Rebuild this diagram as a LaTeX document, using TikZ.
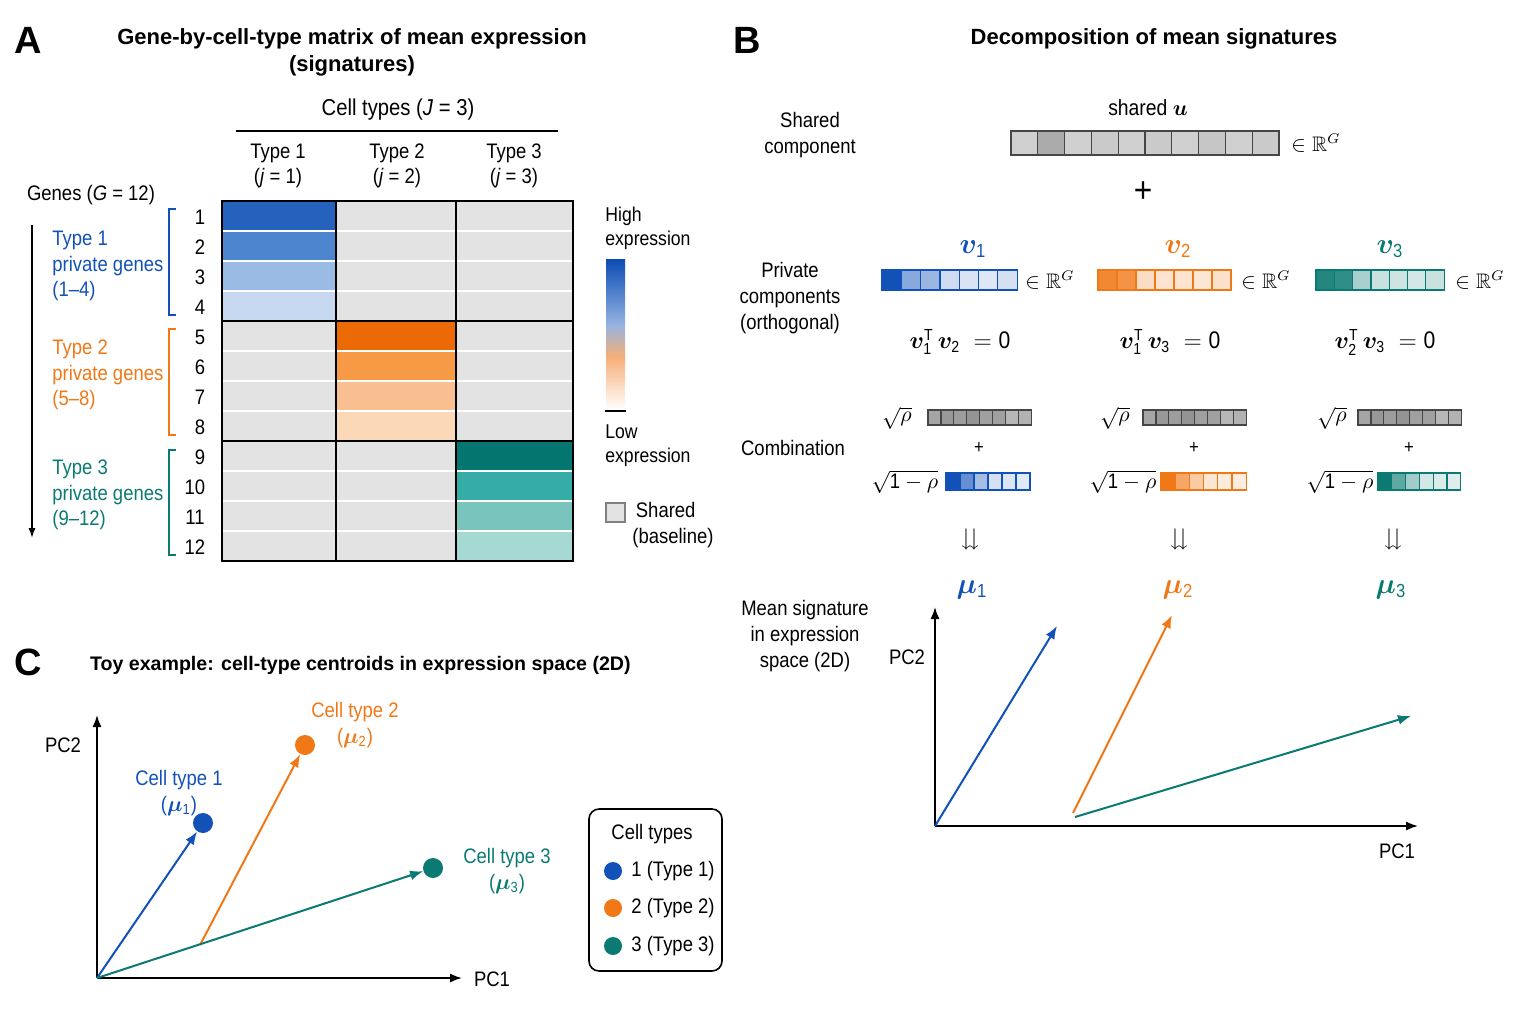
\documentclass[tikz,border=0pt]{standalone}
\usepackage{amsmath,amssymb,bm}
\usepackage{fontspec}
\setmainfont{Liberation Sans}[FakeStretch=0.88]
\newfontfamily\titlefont{Liberation Sans}
\usepackage{tikz}
\usetikzlibrary{calc,positioning,arrows.meta}

\definecolor{TypeBlue}{RGB}{18,82,184}
\definecolor{TypeOrange}{RGB}{240,120,22}
\definecolor{TypeTeal}{RGB}{10,122,114}
\definecolor{BaseGray}{RGB}{227,227,227}
\definecolor{BarGray}{RGB}{208,208,208}
\definecolor{CombGray}{RGB}{165,165,165}
\definecolor{BarEdge}{RGB}{70,70,70}
% heatmap shades
\definecolor{hb1}{RGB}{36,98,190}
\definecolor{hb2}{RGB}{77,133,207}
\definecolor{hb3}{RGB}{154,187,227}
\definecolor{hb4}{RGB}{197,216,239}
\definecolor{ho1}{RGB}{236,106,6}
\definecolor{ho2}{RGB}{247,154,69}
\definecolor{ho3}{RGB}{248,192,144}
\definecolor{ho4}{RGB}{250,216,184}
\definecolor{ht1}{RGB}{5,117,111}
\definecolor{ht2}{RGB}{54,172,166}
\definecolor{ht3}{RGB}{122,196,190}
\definecolor{ht4}{RGB}{166,216,212}

\tikzset{
  paneltag/.style={font=\titlefont\bfseries\fontsize{19}{21}\selectfont},
  paneltitle/.style={font=\titlefont\bfseries\fontsize{11}{13.5}\selectfont, align=center},
  lbl/.style={font=\fontsize{10.5}{12.8}\selectfont, align=center, inner sep=1pt},
  keylbl/.style={font=\fontsize{10}{12}\selectfont, align=left, inner sep=1pt},
  vlabel/.style={font=\fontsize{13.5}{15}\selectfont, inner sep=1pt},
  eqlbl/.style={font=\fontsize{12}{14}\selectfont, inner sep=1pt},
  axisarrow/.style={-{Latex[length=6pt,width=4.5pt]}, line width=0.8pt},
  vecarrow/.style={-{Latex[length=6.5pt,width=5pt]}, line width=1pt},
  centroid/.style={circle, inner sep=0pt, minimum size=10pt},
}

% one row of gene cells: x, y (top), cell width, height, edge colour, fills
\newcommand{\genebar}[6]{%
  \foreach \barcol [count=\i from 0] in {#6}{%
    \filldraw[fill=\barcol, draw=#5, line width=0.6pt]
      ({#1+\i*#3},#2) rectangle ({#1+(\i+1)*#3},{#2+#4});
  }%
}

\begin{document}
\begin{tikzpicture}[x=0.5pt,y=-0.5pt]
\useasboundingbox (0,0) rectangle (1536,1024);

% ---------- Panel A ----------
\node[paneltag] (tagA) at (28,40) {A};
\node[paneltitle] (titleA) at (352,52) {Gene-by-cell-type matrix of mean expression\\(signatures)};

% column header
\node[lbl, font=\fontsize{11.5}{13}\selectfont] (celltypes) at (398,110) {Cell types (\textit{J} = 3)};
\draw[line width=0.8pt] (236,131) -- (558,131);
\node[lbl] (col1) at (278,166) {Type 1\\(\textit{j} = 1)};
\node[lbl] (col2) at (397,166) {Type 2\\(\textit{j} = 2)};
\node[lbl] (col3) at (514,166) {Type 3\\(\textit{j} = 3)};

% heatmap
\fill[BaseGray] (222,201) rectangle (573,561);
\foreach \r/\xa/\xb/\hue in {1/222/336/hb1, 2/222/336/hb2, 3/222/336/hb3, 4/222/336/hb4,
    5/336/456/ho1, 6/336/456/ho2, 7/336/456/ho3, 8/336/456/ho4,
    9/456/573/ht1, 10/456/573/ht2, 11/456/573/ht3, 12/456/573/ht4}
  \fill[\hue] (\xa,{171+30*\r}) rectangle (\xb,{201+30*\r});
\foreach \r in {1,2,3,5,6,7,9,10,11}
  \draw[white, line width=1.2pt] (223,{201+30*\r}) -- (572,{201+30*\r});
\draw[line width=1pt] (222,201) rectangle (573,561);
\draw[line width=0.9pt] (336,201) -- (336,561) (456,201) -- (456,561)
  (222,321) -- (573,321) (222,441) -- (573,441);

% gene rows
\foreach \r in {1,...,12}
  \node[lbl] (g\r) at ({\r<10 ? 200 : 195},{217+30*(\r-1)}) {\r};
\node[lbl] (genes) at (91,195) {Genes (\textit{G} = 12)};
\coordinate (gtop) at (32,225);
\coordinate (gbot) at (32,538);
\draw[-{Latex[length=5pt,width=3.5pt]}, line width=0.7pt] (gtop) -- (gbot);

% private gene groups
\draw[TypeBlue, line width=0.9pt] (176,209) -- (169,209) -- (169,315) -- (176,315);
\draw[TypeOrange, line width=0.9pt] (176,329) -- (169,329) -- (169,435) -- (176,435);
\draw[TypeTeal, line width=0.9pt] (176,450) -- (169,450) -- (169,555) -- (176,555);
\node[lbl, anchor=west, align=left, text=TypeBlue] (grp1) at (50,266) {Type 1\\private genes\\(1–4)};
\node[lbl, anchor=west, align=left, text=TypeOrange] (grp2) at (50,375) {Type 2\\private genes\\(5–8)};
\node[lbl, anchor=west, align=left, text=TypeTeal] (grp3) at (50,495) {Type 3\\private genes\\(9–12)};

% colour legend
\node[keylbl, anchor=west] (high) at (603,228) {High\\expression};
\shade[top color={rgb,255:red,10;green,75;blue,180}, bottom color={rgb,255:red,150;green,180;blue,225}]
  (606,259) rectangle (625,325);
\shade[top color={rgb,255:red,150;green,180;blue,225}, bottom color={rgb,255:red,246;green,175;blue,120}]
  (606,325) rectangle (625,357);
\shade[top color={rgb,255:red,246;green,175;blue,120}, bottom color=white]
  (606,357) rectangle (625,410);
\draw[line width=0.7pt] (605,411) -- (626,411);
\node[keylbl, anchor=west] (low) at (603,446) {Low\\expression};
\filldraw[fill=BaseGray, draw=gray, line width=0.6pt] (606,503) rectangle (625,522);
\node[lbl, anchor=west, align=left] (sharedkey) at (630,525) {\,Shared\\(baseline)};

% ---------- Panel B ----------
\node[paneltag] (tagB) at (747,40) {B};
\node[paneltitle] (titleB) at (1154,39) {Decomposition of mean signatures};

% shared component
\node[lbl] (sharedlbl) at (810,135) {Shared\\component};
\node[lbl, font=\fontsize{11}{13}\selectfont] (sharedu) at (1148,108) {shared $\bm{u}$};
\genebar{1011}{131}{26.8}{24}{BarEdge}{BarGray, BarGray!82!black, BarGray, BarGray!97!black, BarGray, BarGray!97!black, BarGray, BarGray!95!black, BarGray, BarGray!97!black}
\node[lbl] (inRu) at (1316,143) {$\in\mathbb{R}^G$};
\node[font=\fontsize{18}{20}\selectfont, inner sep=1pt] (plusB) at (1143,192) {+};

% private components
\node[lbl] (privlbl) at (790,298) {Private\\components\\(orthogonal)};
\node[vlabel, text=TypeBlue] (v1) at (973,249) {$\bm{v}_{\text{1}}$};
\node[vlabel, text=TypeOrange] (v2) at (1178,249) {$\bm{v}_{\text{2}}$};
\node[vlabel, text=TypeTeal] (v3) at (1390,249) {$\bm{v}_{\text{3}}$};
\genebar{882}{270}{19.3}{20}{TypeBlue}{TypeBlue, TypeBlue!50!white, TypeBlue!42!white, TypeBlue!20!white, TypeBlue!16!white, TypeBlue!14!white, TypeBlue!18!white}
\genebar{1098}{270}{19}{20}{TypeOrange}{TypeOrange!88!white, TypeOrange!80!white, TypeOrange!25!white, TypeOrange!20!white, TypeOrange!20!white, TypeOrange!18!white, TypeOrange!22!white}
\genebar{1316}{270}{18.3}{20}{TypeTeal}{TypeTeal!90!white, TypeTeal!85!white, TypeTeal!35!white, TypeTeal!22!white, TypeTeal!20!white, TypeTeal!18!white, TypeTeal!22!white}
\node[lbl] (inR1) at (1050,280) {$\in\mathbb{R}^G$};
\node[lbl] (inR2) at (1266,280) {$\in\mathbb{R}^G$};
\node[lbl] (inR3) at (1480,280) {$\in\mathbb{R}^G$};
\node[eqlbl] (orth12) at (960,342) {$\bm{v}_{\text{1}}^{\text{T}}\,\bm{v}_{\text{2}}\;=\text{0}$};
\node[eqlbl] (orth13) at (1170,342) {$\bm{v}_{\text{1}}^{\text{T}}\,\bm{v}_{\text{3}}\;=\text{0}$};
\node[eqlbl] (orth23) at (1385,342) {$\bm{v}_{\text{2}}^{\text{T}}\,\bm{v}_{\text{3}}\;=\text{0}$};

% combination
\node[lbl] (comblbl) at (793,448) {Combination};
\foreach \k/\sx/\gx/\cx/\cw/\col in {1/897/928/946/14/TypeBlue, 2/1115/1143/1161/14.2/TypeOrange, 3/1332/1358/1378/13.8/TypeTeal}{
  \node[lbl] (sr\k) at (\sx,418) {$\sqrt{\rho}$};
  \node[lbl] (srm\k) at (\sx+8,482) {$\sqrt{\text{1}-\rho}$};
  \node[lbl, font=\fontsize{9.5}{11}\selectfont] (cplus\k) at (\gx+51,448) {+};
  \genebar{\gx}{410}{12.9}{15}{BarEdge}{CombGray, CombGray!92!black, CombGray!95!black, CombGray!90!black, CombGray!97!black, CombGray!105!white, CombGray!80!white, CombGray!85!white}
  \genebar{\cx}{473}{\cw}{17}{\col}{\col, \col!65!white, \col!38!white, \col!18!white, \col!15!white, \col!13!white}
}

% resulting mean signatures
\node[eqlbl] (dd1) at (970,540) {$\downdownarrows$};
\node[eqlbl] (dd2) at (1179,540) {$\downdownarrows$};
\node[eqlbl] (dd3) at (1393,540) {$\downdownarrows$};
\node[vlabel, text=TypeBlue] (mu1) at (972,590) {$\bm{\mu}_{\text{1}}$};
\node[vlabel, text=TypeOrange] (mu2) at (1178,590) {$\bm{\mu}_{\text{2}}$};
\node[vlabel, text=TypeTeal] (mu3) at (1391,590) {$\bm{\mu}_{\text{3}}$};
\node[lbl] (meanlbl) at (805,636) {Mean signature\\in expression\\space (2D)};

% PC axes
\coordinate (oB) at (935,826);
\coordinate (yB) at (935,607);
\coordinate (xB) at (1418,826);
\draw[axisarrow] (oB) -- (yB);
\draw[axisarrow] (oB) -- (xB);
\node[lbl] (pc2B) at (907,657) {PC2};
\node[lbl] (pc1B) at (1397,851) {PC1};
\coordinate (m1tip) at (1057,626);
\coordinate (m2foot) at (1073,813);
\coordinate (m2tip) at (1172,615);
\coordinate (m3foot) at (1075,817);
\coordinate (m3tip) at (1411,716);
\draw[vecarrow, TypeBlue] (oB) -- (m1tip);
\draw[vecarrow, TypeOrange] (m2foot) -- (m2tip);
\draw[vecarrow, TypeTeal] (m3foot) -- (m3tip);

% ---------- Panel C ----------
\node[paneltag] (tagC) at (28,662) {C};
\node[paneltitle, anchor=west, font=\titlefont\bfseries\fontsize{9.8}{12}\selectfont] (titleC) at (83,665) {Toy example: cell-type centroids in expression space (2D)};

\coordinate (oC) at (97,978);
\coordinate (yC) at (97,715);
\coordinate (xC) at (462,978);
\draw[axisarrow] (oC) -- (yC);
\draw[axisarrow] (oC) -- (xC);
\node[lbl] (pc2C) at (63,745) {PC2};
\node[lbl] (pc1C) at (492,979) {PC1};

% centroids
\node[centroid, fill=TypeBlue] (c1) at (203,823) {};
\node[centroid, fill=TypeOrange] (c2) at (305,745) {};
\node[centroid, fill=TypeTeal] (c3) at (433,868) {};
\coordinate (c2foot) at (200,945);
\draw[vecarrow, TypeBlue] (oC) -- (c1);
\draw[vecarrow, TypeOrange] (c2foot) -- (c2);
\draw[vecarrow, TypeTeal] (oC) -- (c3);
\node[lbl, text=TypeBlue] (c1lbl) at (179,793) {Cell type 1\\($\bm{\mu}_{\text{1}}$)};
\node[lbl, text=TypeOrange] (c2lbl) at (355,725) {Cell type 2\\($\bm{\mu}_{\text{2}}$)};
\node[lbl, text=TypeTeal] (c3lbl) at (507,871) {Cell type 3\\($\bm{\mu}_{\text{3}}$)};

% legend
\draw[rounded corners=5pt, line width=0.8pt] (589,809) rectangle (722,971);
\node[lbl] (legtitle) at (652,834) {Cell types};
\node[centroid, minimum size=9pt, fill=TypeBlue] (l1) at (613,871) {};
\node[centroid, minimum size=9pt, fill=TypeOrange] (l2) at (613,908) {};
\node[centroid, minimum size=9pt, fill=TypeTeal] (l3) at (613,946) {};
\node[lbl, anchor=west] (l1txt) at (629,871) {1 (Type 1)};
\node[lbl, anchor=west] (l2txt) at (629,908) {2 (Type 2)};
\node[lbl, anchor=west] (l3txt) at (629,946) {3 (Type 3)};

\end{tikzpicture}
\end{document}
